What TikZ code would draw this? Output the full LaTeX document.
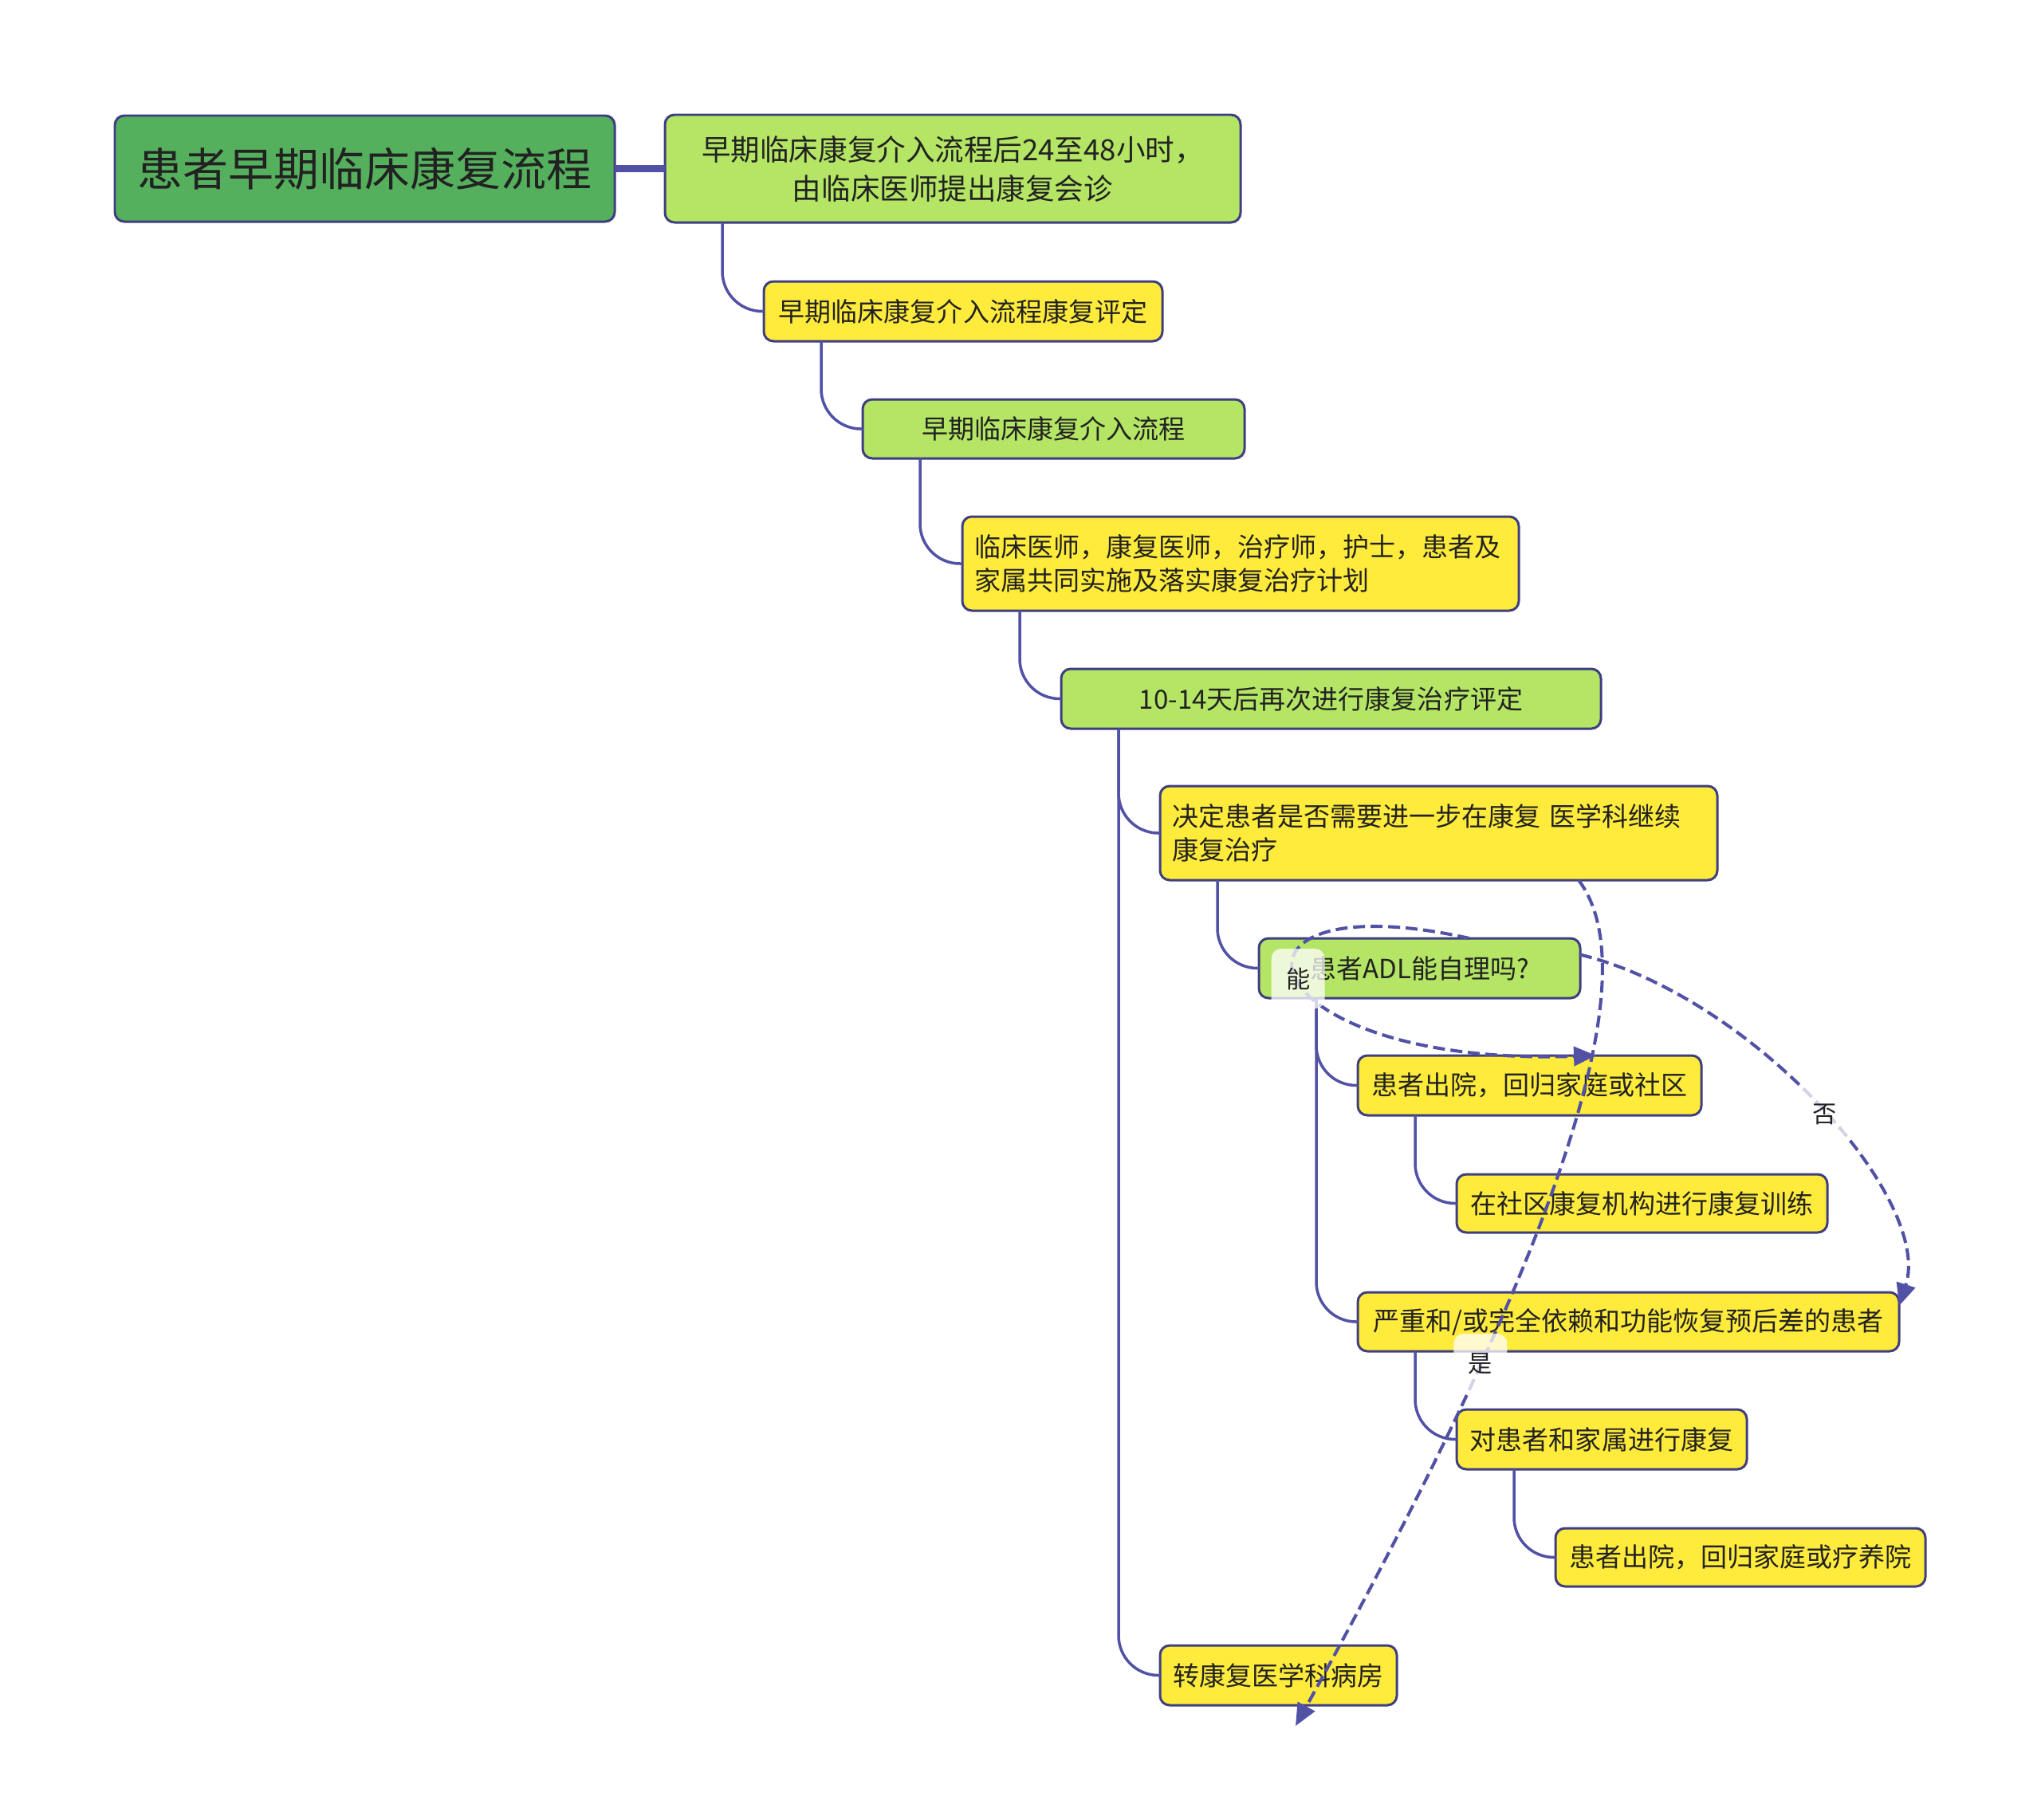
\documentclass[tikz,border=0pt]{standalone}
\usepackage{fontspec}
\usepackage{tikz}
\usetikzlibrary{positioning,arrows.meta}
\newfontfamily\cjk{Noto Sans CJK SC}
\definecolor{rootgreen}{HTML}{55B05D}
\definecolor{leafgreen}{HTML}{B4E564}
\definecolor{sunyellow}{HTML}{FFEB3B}
\definecolor{edgeblue}{HTML}{3E3E80}
\definecolor{linkblue}{HTML}{5151A6}
\definecolor{inkgray}{HTML}{222222}

\begin{document}
\begin{tikzpicture}[
    tnode/.style={rectangle, draw=edgeblue, line width=0.85pt, rounded corners=0.12cm,
                  text=inkgray, inner xsep=0.15cm, inner ysep=0pt, outer sep=0pt, align=center,
                  font=\cjk\fontsize{9.4}{12.1}\selectfont},
    gblock/.style={tnode, fill=leafgreen},
    yblock/.style={tnode, fill=sunyellow},
    branch/.style={draw=linkblue, line width=1pt, rounded corners=0.5cm},
    trunk/.style={draw=linkblue, line width=2.3pt},
    jump/.style={draw=linkblue, line width=1.15pt, dash pattern=on 0.15cm off 0.07cm,
                 -{Triangle[length=0.28cm,width=0.24cm]}},
    tag/.style={fill=white, fill opacity=0.75, text opacity=1, rounded corners=0.12cm,
                inner sep=0pt, minimum width=0.67cm, minimum height=0.75cm,
                text=inkgray, font=\cjk\fontsize{8.6}{10}\selectfont}
]
    \useasboundingbox (0,0) rectangle (25.6,-22.83);

    \node [tnode, fill=rootgreen, minimum width=6.27cm, minimum height=1.33cm,
           font=\cjk\fontsize{16.2}{20}\selectfont, anchor=north west] (root) at (1.44,-1.45) {患者早期临床康复流程};
    \node [gblock, minimum width=7.22cm, minimum height=1.35cm,
           font=\cjk\fontsize{10.4}{13.9}\selectfont, right=0.63cm of root] (entry)
          {早期临床康复介入流程后24至48小时，\\由临床医师提出康复会诊};
    \node [yblock, minimum width=5.00cm, minimum height=0.75cm,
           below right=0.74cm and 1.24cm of entry.south west] (assess) {早期临床康复介入流程康复评定};
    \node [gblock, minimum width=4.79cm, minimum height=0.74cm,
           below right=0.73cm and 1.24cm of assess.south west] (intro) {早期临床康复介入流程};
    \node [yblock, text width=6.68cm, minimum height=1.18cm, align=left,
           below right=0.73cm and 1.25cm of intro.south west] (plan)
          {临床医师，康复医师，治疗师，护士，患者及\\家属共同实施及落实康复治疗计划};
    \node [gblock, minimum width=6.77cm, minimum height=0.75cm,
           below right=0.73cm and 1.24cm of plan.south west] (review) {10-14天后再次进行康复治疗评定};
    \node [yblock, text width=6.69cm, minimum height=1.18cm, align=left,
           below right=0.72cm and 1.24cm of review.south west] (decide)
          {决定患者是否需要进一步在康复 医学科继续\\康复治疗};
    \node [gblock, minimum width=4.03cm, minimum height=0.75cm,
           below right=0.73cm and 1.24cm of decide.south west] (adl) {患者ADL能自理吗?};
    \node [yblock, minimum width=4.31cm, minimum height=0.75cm,
           below right=0.72cm and 1.24cm of adl.south west] (home) {患者出院，回归家庭或社区};
    \node [yblock, minimum width=4.65cm, minimum height=0.73cm,
           below right=0.74cm and 1.24cm of home.south west] (community) {在社区康复机构进行康复训练};
    \node [yblock, minimum width=6.79cm, minimum height=0.74cm,
           below right=0.75cm and -1.24cm of community.south west] (severe) {严重和/或完全依赖和功能恢复预后差的患者};
    \node [yblock, minimum width=3.64cm, minimum height=0.75cm,
           below right=0.73cm and 1.24cm of severe.south west] (family) {对患者和家属进行康复};
    \node [yblock, minimum width=4.64cm, minimum height=0.73cm,
           below right=0.74cm and 1.24cm of family.south west] (discharge) {患者出院，回归家庭或疗养院};
    \node [yblock, minimum width=2.97cm, minimum height=0.75cm,
           below right=0.74cm and -4.96cm of discharge.south west] (ward) {转康复医学科病房};

    \path [trunk]  (root) -- (entry);
    \path [branch] ([xshift=0.72cm]entry.south west)  |- (assess.west);
    \path [branch] ([xshift=0.72cm]assess.south west) |- (intro.west);
    \path [branch] ([xshift=0.72cm]intro.south west)  |- (plan.west);
    \path [branch] ([xshift=0.72cm]plan.south west)   |- (review.west);
    \path [branch] ([xshift=0.72cm]review.south west) |- (decide.west);
    \path [branch] ([xshift=0.72cm]review.south west) |- (ward.west);
    \path [branch] ([xshift=0.72cm]decide.south west) |- (adl.west);
    \path [branch] ([xshift=0.72cm]adl.south west)    |- (home.west);
    \path [branch] ([xshift=0.72cm]adl.south west)    |- (severe.west);
    \path [branch] ([xshift=0.72cm]home.south west)   |- (community.west);
    \path [branch] ([xshift=0.72cm]severe.south west) |- (family.west);
    \path [branch] ([xshift=0.72cm]family.south west) |- (discharge.west);

    \path [jump] ([xshift=2.64cm]adl.north west) .. controls +(-3.43,0.76) and +(-4.42,-0.15) ..
          ([xshift=2.99cm]home.north west) node [tag, pos=0.5] (canlbl) {能};
    \path [jump] ([yshift=0.17cm]adl.east) .. controls +(2.17,-0.53) and +(0.43,1.33) ..
          ([yshift=-0.17cm]severe.north east) node [tag, pos=0.52] (nolbl) {否};
    \path [jump] ([xshift=-1.74cm]decide.south east) .. controls +(0.70,-0.93) and +(3.95,7.15) ..
          ([shift={(1.70,-0.26)}]ward.south west) node [tag, pos=0.75] (yeslbl) {是};
\end{tikzpicture}
\end{document}
